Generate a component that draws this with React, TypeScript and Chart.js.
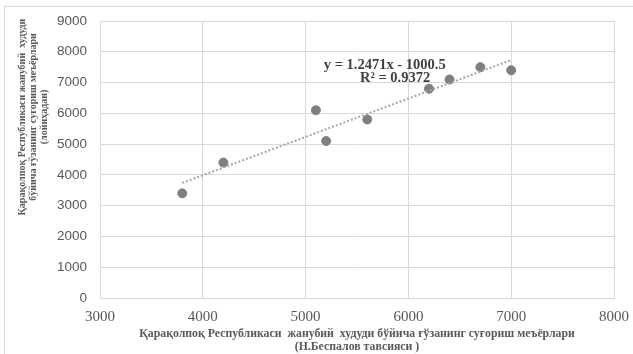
import React, { useEffect, useRef } from "react";
import { Chart, registerables } from "chart.js";

Chart.register(...registerables);

const xValues = [3800, 4200, 5100, 5200, 5600, 6200, 6400, 6700, 7000];
const yValues = [3400, 4400, 6100, 5100, 5800, 6800, 7100, 7500, 7400];
const trendSlope = 1.2471;
const trendIntercept = -1000.5;
const trendEquation = "y = 1.2471x - 1000.5";
const trendR2 = "R² = 0.9372";
const xTitleLines = [
  "Қарақолпоқ Республикаси  жанубий  худуди бўйича ғўзанинг суғориш меъёрлари",
  "(Н.Беспалов тавсияси )",
];
const yTitleLines = [
  "Қарақолпоқ Республикаси жанубий  худуди",
  "бўйича ғўзанинг суғориш меъёрлари",
  "(лойиҳадан)",
];
const xMin = 3000;
const xMax = 8000;
const yMin = 0;
const yMax = 9000;
const step = 1000;

const textPlugin = {
  id: "customTexts",
  afterDraw(chart: any) {
    const ctx = chart.ctx;
    const xs = chart.scales.x;
    const ys = chart.scales.y;
    ctx.save();
    ctx.fillStyle = "#595959";
    ctx.textAlign = "center";
    ctx.textBaseline = "middle";
    // x title
    ctx.font = "bold 11.8px 'Liberation Serif'";
    ctx.fillText(xTitleLines[0], 357, 334);
    ctx.fillText(xTitleLines[1], 357, 347);
    // y title
    const cy = 117;
    const xs0 = [22, 33, 44];
    ctx.font = "bold 10px 'Liberation Serif'";
    yTitleLines.forEach((t, i) => {
      ctx.save();
      ctx.translate(xs0[i], cy);
      ctx.rotate(-Math.PI / 2);
      ctx.fillText(t, 0, 0);
      ctx.restore();
    });
    // trendline label
    ctx.fillStyle = "#404040";
    ctx.font = "bold 14.5px 'Liberation Serif'";
    ctx.fillText(trendEquation, xs.getPixelForValue(5770), ys.getPixelForValue(7570));
    ctx.fillText(trendR2, xs.getPixelForValue(5870), ys.getPixelForValue(7148));
    ctx.restore();
  },
};

export default function App() {
  const ref = useRef<HTMLCanvasElement>(null);
  useEffect(() => {
    if (!ref.current) return;
    const tx0 = xValues[0];
    const tx1 = xValues[xValues.length - 1];
    const chart = new Chart(ref.current, {
      type: "scatter",
      data: {
        datasets: [
          {
            type: "line",
            data: [
              { x: tx0, y: trendSlope * tx0 + trendIntercept },
              { x: tx1, y: trendSlope * tx1 + trendIntercept },
            ],
            borderColor: "#a6a6a6",
            borderWidth: 2,
            borderDash: [2, 2],
            pointRadius: 0,
            fill: false,
          } as any,
          {
            data: xValues.map((x, i) => ({ x, y: yValues[i] })),
            backgroundColor: "#7f7f7f",
            borderColor: "#7f7f7f",
            pointRadius: 4.5,
          },
        ],
      },
      options: {
        animation: false,
        responsive: false,
        maintainAspectRatio: false,
        layout: { padding: { top: 21, right: 19, left: 0, bottom: 0 } },
        plugins: { legend: { display: false }, tooltip: { enabled: false } },
        scales: {
          x: {
            type: "linear",
            min: xMin,
            max: xMax,
            ticks: {
              stepSize: step,
              color: "#595959",
              font: { family: "'Liberation Serif'", size: 15 },
              padding: 10,
              callback: (v: any) => String(v),
            },
            grid: { color: "#d9d9d9", drawTicks: false },
            border: { color: "#d9d9d9" },
            afterFit: (s: any) => {
              s.height = 56;
              s.paddingRight = 0;
              s.paddingLeft = 0;
            },
          },
          y: {
            min: yMin,
            max: yMax,
            ticks: {
              stepSize: step,
              color: "#595959",
              font: { family: "'Liberation Sans'", size: 13.5 },
              padding: 13,
              callback: (v: any) => String(v),
            },
            grid: { color: "#d9d9d9", drawTicks: false },
            border: { color: "#d9d9d9" },
            afterFit: (s: any) => {
              s.width = 100;
              s.paddingTop = 0;
              s.paddingBottom = 0;
            },
          },
        },
      },
      plugins: [textPlugin],
    });
    return () => chart.destroy();
  }, []);
  return (
    <div style={{ position: "absolute", left: 0, top: 0, width: 633, height: 354, background: "#fff", overflow: "hidden" }}>
      <div style={{ position: "absolute", left: 4, top: 6, width: 640, height: 360, borderTop: "1px solid #d9d9d9", borderLeft: "1px solid #d9d9d9" }} />
      <canvas ref={ref} width={633} height={354} style={{ position: "absolute", left: 0, top: 0 }} />
    </div>
  );
}
